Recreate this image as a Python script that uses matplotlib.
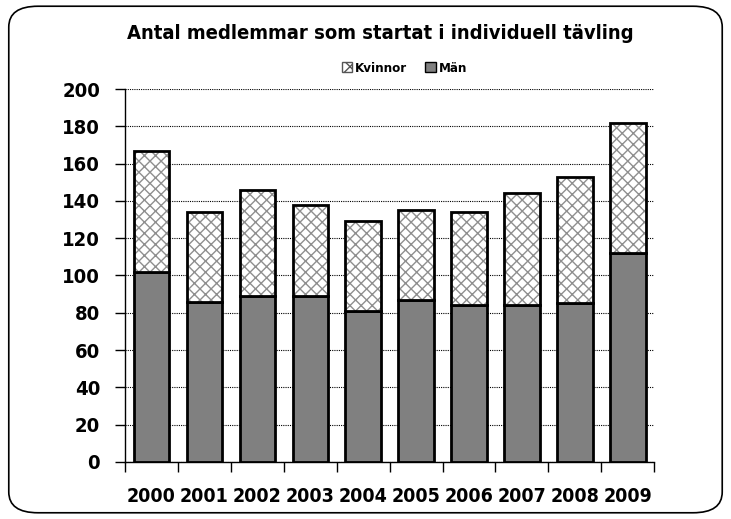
import matplotlib.pyplot as plt
from matplotlib.patches import FancyBboxPatch, Patch
import numpy as np

plt.rcParams['font.family'] = ['DejaVu Sans']
plt.rcParams['font.stretch'] = 'condensed'
plt.rcParams['font.weight'] = 'bold'
plt.rcParams['hatch.linewidth'] = 1.0

years = ['2000', '2001', '2002', '2003', '2004', '2005', '2006', '2007', '2008', '2009']
man = [102, 86, 89, 89, 81, 87, 84, 84, 85, 112]
totals = [167, 134, 146, 138, 129, 135, 134, 144, 153, 182]
kvinnor = [t - m for t, m in zip(totals, man)]

fig = plt.figure(figsize=(7.31, 5.19), dpi=100)
border = FancyBboxPatch((0.012, 0.012), 0.976, 0.976, boxstyle="round,pad=0,rounding_size=0.04",
                        transform=fig.transFigure, facecolor='none', edgecolor='black', lw=1.2,
                        zorder=5)
fig.patches.append(border)

ax = fig.add_axes([0.171, 0.11, 0.724, 0.7185])
x = np.arange(len(years))
ax.bar(x, man, width=0.67, color='#808080', edgecolor='black', lw=2, zorder=3)
# hatch in gray, then black outline on top
ax.bar(x, kvinnor, width=0.67, bottom=man, color='white', edgecolor='#8f8f8f', lw=0,
       hatch='xxx', zorder=3)
ax.bar(x, kvinnor, width=0.67, bottom=man, color='none', edgecolor='black', lw=2, zorder=4)

ax.set_ylim(0, 200)
ax.set_xlim(-0.5, len(years) - 0.5)
ax.set_yticks(range(0, 201, 20))
ax.yaxis.grid(True, linestyle=(0, (1, 1)), color='black', lw=0.8, zorder=0)
ax.set_xticks(x)
ax.set_xticklabels(years)
ax.set_xticks(np.arange(-0.5, len(years), 1), minor=True)
ax.tick_params(axis='x', which='major', length=0, pad=18, labelsize=14)
ax.tick_params(axis='x', which='minor', length=7, width=1, direction='out')
ax.tick_params(axis='y', length=7, width=1, labelsize=14.5, pad=11)
for lab in ax.get_xticklabels() + ax.get_yticklabels():
    lab.set_fontweight('bold')
    lab.set_fontstretch('condensed')
for s in ['top', 'right']:
    ax.spines[s].set_visible(False)
ax.spines['left'].set_linewidth(1)
ax.spines['bottom'].set_linewidth(1)

fig.text(0.52, 0.935, 'Antal medlemmar som startat i individuell tävling', ha='center', va='center',
         fontsize=14.5, fontweight='bold', fontstretch='condensed')

handles = [Patch(facecolor='white', edgecolor='#555555', hatch='xx', label='Kvinnor'),
           Patch(facecolor='#808080', edgecolor='black', label='Män')]
fig.legend(handles=handles, loc='center', bbox_to_anchor=(0.553, 0.868), ncol=2, frameon=False,
           handlelength=0.8, handleheight=0.8, handletextpad=0.2, columnspacing=1.4,
           prop={'weight': 'bold', 'size': 9.5, 'stretch': 'condensed'})

fig.savefig('out.png', dpi=100)
